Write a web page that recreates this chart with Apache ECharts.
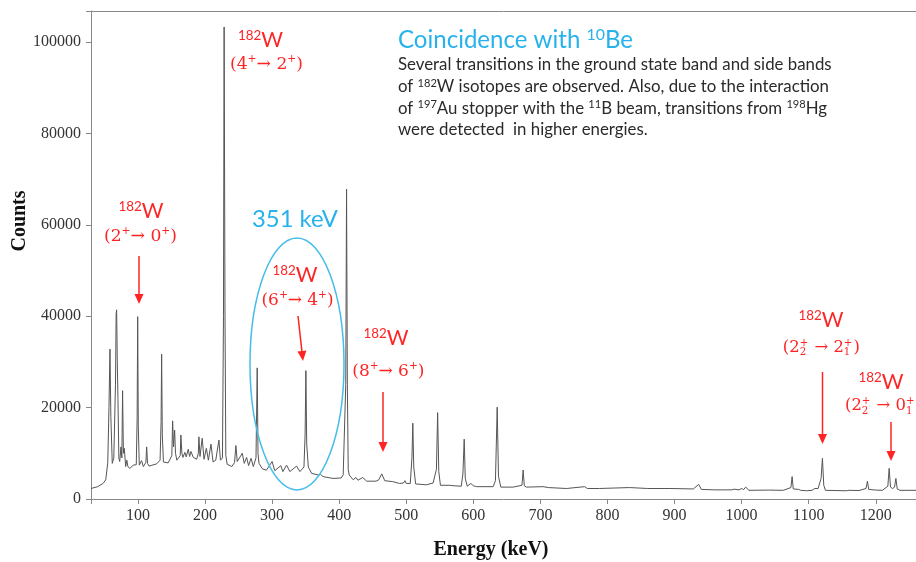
<!DOCTYPE html>
<html>
<head>
<meta charset="utf-8">
<script src="https://cdn.jsdelivr.net/npm/echarts@6/dist/echarts.min.js"></script>
<style>
  html, body { margin: 0; padding: 0; background: #fff; }
  #main { width: 916px; height: 562px; }
</style>
</head>
<body>
<div id="main"></div>
<script>
// gamma spectrum in coincidence with 10Be
const energyKeV = [
  30, 40, 48, 52, 55, 56.8, 58.3, 59.6, 61.7, 64, 66.5, 67.5, 68.2, 69.2, 70.2, 71.5, 72.8, 74.7, 76, 77.1,
  78.3, 79.6, 81.7, 83.4, 85, 88, 93, 97.5, 98.8, 99.6, 100.5, 102, 105.4, 108, 111.8, 113, 114.3, 116.5, 128, 133,
  134.5, 135.3, 136.3, 138, 145, 150.5, 151.7, 153, 154.7, 156, 158, 163, 164, 165.5, 167, 170, 172, 175, 177, 179,
  182.5, 187.5, 190, 190.9, 192.5, 195.8, 198.5, 202, 205, 208.9, 212, 216, 220.7, 223, 226, 227.5, 228.5, 229.8, 231, 233,
  240, 244, 246, 248, 249, 255.5, 258.5, 262, 265, 268.6, 272, 276, 277.8, 279, 280.5, 285.5, 291.5, 300, 304, 313,
  316, 321.6, 326.5, 336.5, 341.5, 347.5, 349.2, 350.4, 351.6, 354, 359, 369, 372, 376, 391, 403, 406, 408, 409.8, 411,
  412.2, 413.5, 415, 421, 425, 428, 435, 441, 455, 459, 463.5, 468, 480, 490, 496, 498, 500, 506, 508.5, 509.8,
  511.2, 514, 530, 540, 545, 546.8, 548.5, 551, 565, 570, 582, 584.5, 586.4, 588, 591, 596.3, 600, 605, 629.6, 633,
  635.6, 637.5, 641, 659.4, 672.5, 674.3, 676, 679, 704, 712, 739, 766, 770, 788, 810, 833, 860, 893, 928, 936,
  940, 960, 985, 989, 996, 1000, 1003, 1006, 1011, 1040, 1062, 1073.5, 1075.3, 1077, 1079, 1085, 1088, 1097, 1105, 1109,
  1111.6, 1114, 1118.5, 1120.5, 1122.5, 1125, 1156, 1160, 1175, 1185.5, 1187.6, 1189.5, 1192, 1200, 1210, 1218, 1220, 1222, 1225, 1228,
  1230, 1232, 1236, 1260
];
const counts = [
  2300, 2700, 3400, 4200, 8000, 20000, 32800, 18000, 7800, 9000, 25000, 40500, 41400, 30000, 22000, 9000, 8200, 11400, 9000, 23700,
  10000, 11100, 7100, 8500, 7100, 6700, 7400, 7500, 18000, 39900, 16000, 7400, 8400, 7100, 8000, 11400, 7800, 7200, 7700, 8500,
  17000, 31700, 14000, 8100, 7900, 9500, 17100, 11400, 15100, 10000, 8500, 9500, 14000, 10000, 9100, 10200, 9200, 10900, 9300, 10400,
  9100, 8700, 10000, 13600, 9300, 13300, 8700, 11100, 8500, 12000, 8100, 8500, 12900, 8500, 9000, 40000, 103300, 40000, 9500, 7600,
  7100, 8000, 11700, 8200, 7800, 10000, 7800, 9100, 7300, 8900, 7100, 9000, 28700, 10000, 7800, 6600, 6300, 8200, 6200, 7300,
  6000, 7400, 6000, 7200, 6000, 7000, 14000, 28100, 12000, 7000, 5600, 5250, 5400, 4900, 4500, 4600, 5300, 5000, 25000, 67800,
  25000, 6500, 5250, 4200, 4700, 4100, 4700, 3900, 3900, 4200, 5500, 4000, 3800, 3400, 3500, 4000, 3400, 3400, 9000, 16600,
  7000, 3300, 3100, 3500, 6500, 18900, 6000, 3000, 3000, 2900, 2800, 5500, 13100, 4500, 2800, 3400, 2900, 2700, 2700, 4000,
  20100, 5000, 2600, 2600, 3000, 6350, 2900, 2600, 2700, 2500, 2300, 2700, 2300, 2300, 2400, 2500, 2300, 2300, 2200, 3200,
  2100, 2000, 2000, 2150, 2000, 2300, 2050, 2600, 1900, 1950, 1900, 2500, 4900, 2200, 1900, 2100, 1900, 1800, 1900, 2300,
  2600, 2300, 4500, 8900, 3000, 1900, 1800, 1900, 1850, 2300, 3900, 2100, 1900, 1950, 1900, 2800, 6700, 2600, 2300, 2600,
  4500, 2200, 1900, 1900
];
const yTicks = [0, 20000, 40000, 60000, 80000, 100000];

const RED = '#ff2424';
const BLUE = '#27b2ec';

var chartDom = document.getElementById('main');
var myChart = echarts.init(chartDom);

// text measuring, used to lay out superscripts / stacked indices
const measure = document.createElement('canvas').getContext('2d');
function textWidth(str, font) {
  measure.font = font;
  return measure.measureText(str).width;
}

// one row of text; pieces are strings or {sup} / {sup, sub} small parts
function row(x, y, pieces, opt) {
  let size = opt.size;
  const fam = opt.family;
  const weight = opt.weight || 'normal';
  const layout = function (sz) {
    const big = weight + ' ' + sz + 'px ' + fam;
    const smallSz = Math.round(sz * (opt.ratio || 0.62) * 10) / 10;
    const small = weight + ' ' + smallSz + 'px ' + fam;
    const items = [];
    let cx = 0;
    pieces.forEach(function (p) {
      if (typeof p === 'string') {
        items.push({ t: p, x: cx, dy: 0, font: big });
        cx += textWidth(p, big);
      } else if (p.sub != null) {
        items.push({ t: p.sup, x: cx, dy: -sz * 0.27, font: small });
        items.push({ t: p.sub, x: cx, dy: sz * 0.3, font: small });
        cx += Math.max(textWidth(p.sup, small), textWidth(p.sub, small)) + 1;
      } else {
        items.push({ t: p.sup, x: cx, dy: -sz * (opt.raise || 0.22), font: small });
        cx += textWidth(p.sup, small);
      }
    });
    return { items: items, width: cx };
  };
  let res = layout(size);
  if (opt.fit) {
    size = size * opt.fit / res.width;
    res = layout(size);
  }
  const x0 = opt.align === 'center' ? x - res.width / 2 : x;
  return res.items.map(function (o) {
    return {
      type: 'text', silent: true, z: 100,
      x: x0 + o.x, y: y + o.dy,
      style: { text: o.t, font: o.font, fill: opt.color, align: 'left', verticalAlign: 'middle' }
    };
  });
}

function arrow(x1, y1, x2, y2) {
  const len = Math.hypot(x2 - x1, y2 - y1);
  const ux = (x2 - x1) / len, uy = (y2 - y1) / len;
  const hl = 10, hw = 4.5;
  const bx = x2 - ux * hl, by = y2 - uy * hl;
  return [
    { type: 'line', silent: true, z: 100, shape: { x1: x1, y1: y1, x2: bx, y2: by }, style: { stroke: RED, lineWidth: 1.5 } },
    { type: 'polygon', silent: true, z: 100,
      shape: { points: [[x2, y2], [bx - uy * hw, by + ux * hw], [bx + uy * hw, by - ux * hw]] },
      style: { fill: RED } }
  ];
}

const graphics = [];
function add(list) { list.forEach(function (g) { graphics.push(g); }); }

const wLabel = { size: 21, family: 'Lato', color: RED, align: 'center', ratio: 0.64 };
const mathLabel = { size: 16, family: 'DejaVu Serif', color: RED, align: 'center', ratio: 0.62, raise: 0.28 };

// 182W (2+ -> 0+)
add(row(141, 211, [{ sup: '182' }, 'W'], wLabel));
add(row(140.5, 236.5, ['(2', { sup: '+' }, '→ 0', { sup: '+' }, ')'], Object.assign({}, mathLabel, { fit: 73 })));
add(arrow(139, 256, 139, 304));

// 182W (4+ -> 2+)
add(row(260.5, 40, [{ sup: '182' }, 'W'], wLabel));
add(row(266.5, 64.5, ['(4', { sup: '+' }, '→ 2', { sup: '+' }, ')'], Object.assign({}, mathLabel, { fit: 73 })));

// 182W (6+ -> 4+)
add(row(295, 275, [{ sup: '182' }, 'W'], wLabel));
add(row(297.5, 300.5, ['(6', { sup: '+' }, '→ 4', { sup: '+' }, ')'], Object.assign({}, mathLabel, { fit: 72 })));
add(arrow(298, 316, 303, 361));

// 182W (8+ -> 6+)
add(row(386, 338, [{ sup: '182' }, 'W'], wLabel));
add(row(388.3, 371.5, ['(8', { sup: '+' }, '→ 6', { sup: '+' }, ')'], Object.assign({}, mathLabel, { fit: 72 })));
add(arrow(383, 392, 383, 452));

// 182W (2_2+ -> 2_1+)
add(row(821, 320, [{ sup: '182' }, 'W'], wLabel));
add(row(821.3, 347.5, ['(2', { sup: '+', sub: '2' }, ' → 2', { sup: '+', sub: '1' }, ')'], Object.assign({}, mathLabel, { fit: 77 })));
add(arrow(822.5, 372, 822.5, 444));

// 182W (2_2+ -> 0_1+)
add(row(881, 382, [{ sup: '182' }, 'W'], wLabel));
add(row(883.5, 406, ['(2', { sup: '+', sub: '2' }, ' → 0', { sup: '+', sub: '1' }, ')'], Object.assign({}, mathLabel, { fit: 77 })));
add(arrow(891, 422, 891, 461));

// 351 keV ring
add(row(295, 219, ['351 keV'], { size: 21, family: 'Lato', color: BLUE, align: 'center', fit: 86 }));
graphics.push({
  type: 'ellipse', silent: true, z: 90,
  shape: { cx: 297, cy: 364, rx: 47, ry: 126 },
  style: { fill: 'none', stroke: '#46bde9', lineWidth: 1.5 }
});

// title and note
add(row(398, 40, ['Coincidence with ', { sup: '10' }, 'Be'], { size: 22, family: 'Lato', color: BLUE, fit: 235, ratio: 0.66 }));
const note = { size: 15, family: 'Lato', color: '#2a2a2a', ratio: 0.66, raise: 0.24 };
note.size = 15 * 434 / textWidth('Several transitions in the ground state band and side bands', '15px Lato');
add(row(398, 65, ['Several transitions in the ground state band and side bands'], note));
add(row(398, 87, ['of ', { sup: '182' }, 'W isotopes are observed. Also, due to the interaction'], note));
add(row(398, 108.5, ['of ', { sup: '197' }, 'Au stopper with the ', { sup: '11' }, 'B beam, transitions from ', { sup: '198' }, 'Hg'], note));
add(row(398, 130, ['were detected  in higher energies.'], note));

const serif = 'Liberation Serif';

// axis titles sit off-centre in the picture, so they are placed by hand
graphics.push({
  type: 'text', silent: true, z: 100, x: 20, y: 221, rotation: Math.PI / 2,
  style: { text: 'Counts', font: 'bold 20px ' + serif, fill: '#111', align: 'center', verticalAlign: 'middle' }
});
graphics.push({
  type: 'text', silent: true, z: 100, x: 491, y: 550,
  style: { text: 'Energy (keV)', font: 'bold 20px ' + serif, fill: '#111', align: 'center', verticalAlign: 'middle' }
});

var option = {
  animation: false,
  backgroundColor: '#fff',
  grid: { left: 91, right: 0, top: 11, bottom: 63, outerBoundsMode: 'none' },
  xAxis: [
    {
      type: 'value',
      min: 30,
      max: 1260,
      splitNumber: 12,
      minInterval: 100,
      maxInterval: 100,
      axisLine: { lineStyle: { color: '#888', width: 1 } },
      axisTick: { length: 5, lineStyle: { color: '#888' } },
      axisLabel: {
        margin: 9, fontFamily: serif, fontSize: 16, color: '#333',
        formatter: function (v) { return v % 100 === 0 ? String(v) : ''; }
      },
      splitLine: { show: false }
    },
    {
      type: 'value',
      position: 'top',
      min: 30,
      max: 1260,
      axisLine: { show: true, lineStyle: { color: '#888', width: 1 } },
      axisTick: { show: false },
      axisLabel: { show: false },
      splitLine: { show: false }
    }
  ],
  yAxis: {
    type: 'value',
    min: 0,
    max: 106800,
    interval: 20000,
    axisLine: { show: true, lineStyle: { color: '#888', width: 1 } },
    axisTick: { show: true, length: 5, lineStyle: { color: '#888' } },
    axisLabel: {
      margin: 10, fontFamily: serif, fontSize: 16, color: '#333',
      formatter: function (v) { return yTicks.indexOf(v) >= 0 ? String(v) : ''; }
    },
    splitLine: { show: false }
  },
  series: [
    {
      type: 'line',
      data: energyKeV.map(function (e, i) { return [e, counts[i]]; }),
      showSymbol: false,
      symbol: 'none',
      lineStyle: { color: '#555', width: 1 },
      z: 2
    }
  ],
  graphic: { elements: graphics }
};

option && myChart.setOption(option);
</script>
</body>
</html>
